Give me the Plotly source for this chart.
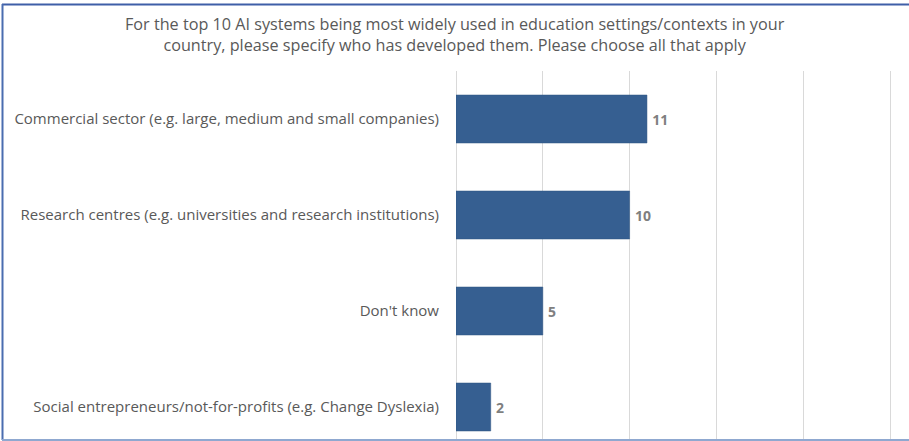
import plotly.graph_objects as go

# Survey responses: who developed the AI systems (bottom to top)
categories = [
    "Social entrepreneurs/not-for-profits (e.g. Change Dyslexia)",
    "Don't know",
    "Research centres (e.g. universities and research institutions)",
    "Commercial sector (e.g. large, medium and small companies)",
]
counts = [2, 5, 10, 11]
x_ticks = [0, 5, 10, 15, 20, 25]

title_text = ("For the top 10 AI systems being most widely used in education settings/contexts in your<br>"
              "country, please specify who has developed them. Please choose all that apply")

W, H = 909, 441
ml, mr, mt, mb = 456, 14, 71, 2
pw, ph = W - ml - mr, H - mt - mb
x_max = pw / 17.36  # keeps 5 units ≈ 87 px

FONT = "Open Sans"

fig = go.Figure(
    go.Bar(
        x=counts,
        y=categories,
        orientation="h",
        width=0.5,
        marker=dict(color="#365F91", line=dict(color="#2f5482", width=0.5)),
        text=counts,
        texttemplate="\u2009%{text}",
        textposition="outside",
        textfont=dict(family=FONT, size=14, color="#7F7F7F", weight="bold"),
        cliponaxis=False,
    )
)

fig.update_layout(
    width=W,
    height=H,
    margin=dict(l=ml, r=mr, t=mt, b=mb),
    paper_bgcolor="white",
    plot_bgcolor="white",
    showlegend=False,
    font=dict(family=FONT, color="#595959"),
    xaxis=dict(
        range=[0, x_max],
        tickvals=x_ticks,
        showticklabels=False,
        showgrid=True,
        gridcolor="#D9D9D9",
        gridwidth=1,
        zeroline=True,
        zerolinecolor="#D9D9D9",
        zerolinewidth=1,
        fixedrange=True,
    ),
    yaxis=dict(
        type="category",
        categoryorder="array",
        categoryarray=categories,
        range=[3.5 - ph / 96.0, 3.5],
        showgrid=False,
        zeroline=False,
        ticks="",
        ticklabelstandoff=16,
        tickfont=dict(family=FONT, size=15, color="#595959"),
    ),
)

# Two-line chart title, centred across the whole figure
fig.add_annotation(
    text=title_text,
    xref="paper", yref="paper",
    x=(W / 2 - ml) / pw,
    y=1 + (mt - 11) / ph,
    xanchor="center", yanchor="top",
    showarrow=False,
    align="center",
    font=dict(family=FONT, size=16.2, color="#595959"),
)

# Chart frame: top and left edges in dark blue, bottom edge in light blue
fig.add_shape(type="line", xref="paper", yref="paper",
              x0=-(ml - 2) / pw, x1=(W - ml) / pw,
              y0=1 + (mt - 4.5) / ph, y1=1 + (mt - 4.5) / ph,
              line=dict(color="#3F5FA8", width=2))
fig.add_shape(type="line", xref="paper", yref="paper",
              x0=-(ml - 2.5) / pw, x1=-(ml - 2.5) / pw,
              y0=-(mb - 1) / ph, y1=1 + (mt - 4) / ph,
              line=dict(color="#4A6DB0", width=2))
fig.add_shape(type="line", xref="paper", yref="paper",
              x0=-(ml - 2) / pw, x1=(W - ml) / pw,
              y0=-(mb - 1) / ph, y1=-(mb - 1) / ph,
              line=dict(color="#8FA8D0", width=2))

fig.write_html("out.html")
